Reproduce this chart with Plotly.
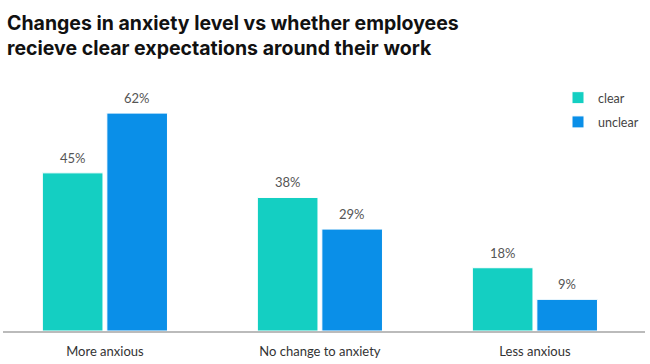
import plotly.graph_objects as go

categories = ["More anxious", "No change to anxiety", "Less anxious"]
clear_vals = [45, 38, 18]
unclear_vals = [62, 29, 9]
series_names = ["clear", "unclear"]

title_lines = ["Changes in anxiety level vs whether employees",
               "recieve clear expectations around their work"]

colors = ["#14cfc2", "#0a8fe8"]

fig = go.Figure()
for name, vals, col in zip(series_names, [clear_vals, unclear_vals], colors):
    fig.add_trace(go.Bar(
        name=name, x=categories, y=vals,
        marker=dict(color=col, line=dict(color="white", width=1)),
        offsetgroup=name, legendgroup=name,
        hoverinfo="skip",
    ))

# value labels
annotations = []
offsets = [-0.5, 0.5]
for i, vals in enumerate([clear_vals, unclear_vals]):
    for j, v in enumerate(vals):
        annotations.append(dict(
            x=j, y=v, xref="x", yref="y",
            text=f"{v}%", showarrow=False,
            xshift=offsets[i] * 64.5, yshift=15,
            font=dict(family="Lato, Roboto, sans-serif", size=13, color="#555555"),
        ))

# title as annotation
annotations.append(dict(
    x=0, y=1.31, xref="paper", yref="paper",
    xanchor="left", yanchor="top", align="left", xshift=2,
    text="<b>" + "<br>".join(title_lines) + "</b>",
    showarrow=False,
    font=dict(family="Inter, Roboto, sans-serif", size=19.5, color="#111111"),
))

fig.update_layout(
    width=650, height=364,
    paper_bgcolor="white", plot_bgcolor="white",
    margin=dict(l=3, r=5, t=85, b=33),
    barmode="group", bargap=0.4, bargroupgap=0.06,
    legend=dict(
        x=0.8645, y=1.008, xanchor="left", yanchor="top",
        xref="paper", yref="paper",
        traceorder="grouped",
        font=dict(family="Lato, Roboto, sans-serif", size=12.5, color="#444444"),
        tracegroupgap=5, itemwidth=30,
        bgcolor="rgba(0,0,0,0)",
    ),
    annotations=annotations,
    xaxis=dict(
        type="category",
        range=[-0.474, 2.512],
        showline=True, linecolor="#bbbbbb", linewidth=1.5,
        ticks="", showgrid=False, ticklabelstandoff=8,
        tickfont=dict(family="Lato, Roboto, sans-serif", size=13, color="#333333"),
    ),
    yaxis=dict(
        range=[0, 70], visible=False, showgrid=False, zeroline=False,
    ),
)

fig.write_html("out.html", config={"displayModeBar": False},
               post_script="document.body.style.margin='0';")
